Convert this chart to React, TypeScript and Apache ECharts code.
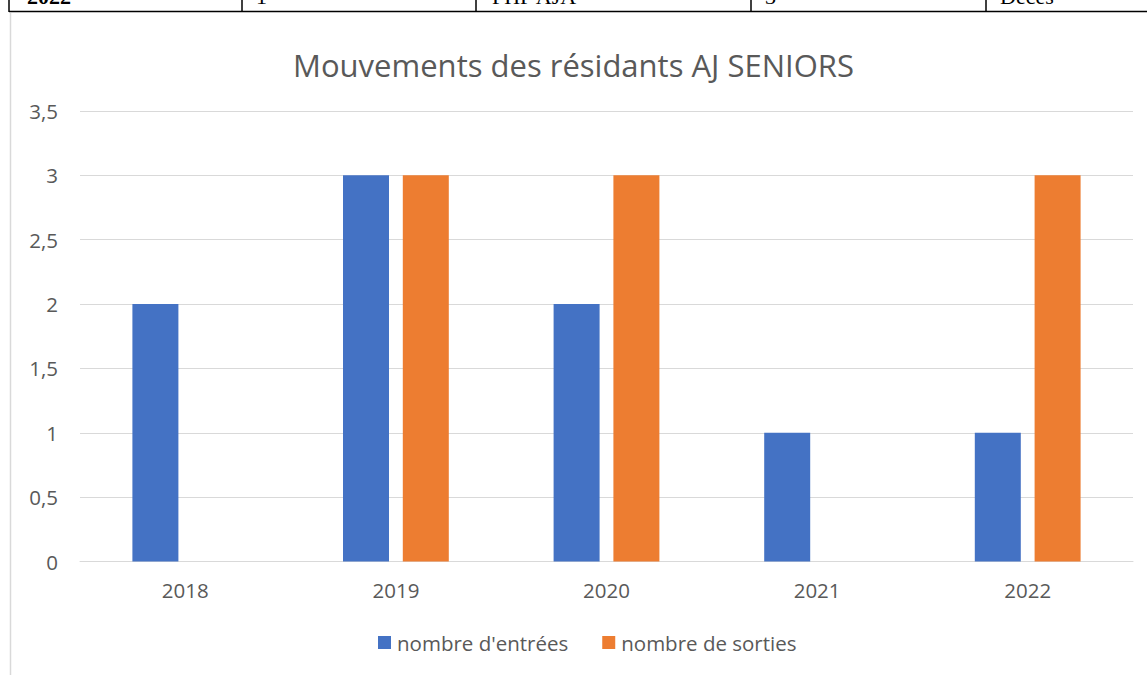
import React, { useEffect, useRef } from "react";
import * as echarts from "echarts";

const categories = ["2018", "2019", "2020", "2021", "2022"];
const entrees = [2, 3, 2, 1, 1];
const sorties = [0, 3, 3, 0, 3];
const tableCells = ["2022", "1", "PHP AJA", "3", "Décès"];

export default function App() {
  const ref = useRef<HTMLDivElement>(null);
  useEffect(() => {
    if (!ref.current) return;
    const chart = echarts.init(ref.current, null, { renderer: "svg" });
    const cellX = [27, 256, 492, 765, 1000];
    const vLines = [9, 242, 476, 751, 986];
    const font = "Open Sans";
    chart.setOption({
      animation: false,
      backgroundColor: "#ffffff",
      title: {
        text: "Mouvements des résidants AJ SENIORS",
        left: "center",
        top: 44,
        textStyle: { fontFamily: font, fontSize: 31, fontWeight: "normal", color: "#595959" },
      },
      grid: { left: 80, right: 14, top: 111, bottom: 113.5 },
      legend: {
        bottom: 17,
        left: 373,
        icon: "rect",
        itemWidth: 13,
        itemHeight: 13,
        itemGap: 34,
        textStyle: { fontFamily: font, fontSize: 20.5, color: "#595959", padding: [0, 0, 0, 1] },
        data: ["nombre d'entrées", "nombre de sorties"],
      },
      xAxis: {
        type: "category",
        data: categories,
        axisLine: { lineStyle: { color: "#d9d9d9", width: 1 } },
        axisTick: { show: false },
        axisLabel: { fontFamily: font, fontSize: 20.5, color: "#595959", margin: 18 },
      },
      yAxis: {
        type: "value",
        min: 0,
        max: 3.5,
        interval: 0.5,
        axisLine: { show: false },
        axisTick: { show: false },
        splitLine: { lineStyle: { color: "#d9d9d9", width: 1 } },
        axisLabel: {
          fontFamily: font,
          fontSize: 20.5,
          color: "#595959",
          margin: 22,
          formatter: (v: number) => String(v).replace(".", ","),
        },
      },
      series: [
        {
          name: "nombre d'entrées",
          type: "bar",
          data: entrees,
          barWidth: 46,
          barGap: "30%",
          itemStyle: { color: "#4472c4" },
        },
        {
          name: "nombre de sorties",
          type: "bar",
          data: sorties,
          barWidth: 46,
          itemStyle: { color: "#ed7d31" },
        },
      ],
      graphic: [
        { type: "line", shape: { x1: 10.5, y1: 13, x2: 10.5, y2: 675 }, style: { stroke: "#d9d9d9", lineWidth: 1.5 } },
        { type: "line", shape: { x1: 9, y1: 11.5, x2: 1147, y2: 11.5 }, style: { stroke: "#000", lineWidth: 1.5 } },
        ...vLines.map((x) => ({
          type: "line",
          shape: { x1: x, y1: 0, x2: x, y2: 12 },
          style: { stroke: "#000", lineWidth: 1.5 },
        })),
        ...tableCells.map((t, i) => ({
          type: "text",
          x: cellX[i],
          y: 7,
          style: {
            text: t,
            fontFamily: "Liberation Serif",
            fontSize: 22,
            fontWeight: i === 0 ? "bold" : "normal",
            fill: "#000",
            textVerticalAlign: "bottom",
          },
        })),
      ],
    });
    return () => chart.dispose();
  }, []);
  return <div ref={ref} style={{ position: "absolute", left: 0, top: 0, width: 1147, height: 675 }} />;
}
